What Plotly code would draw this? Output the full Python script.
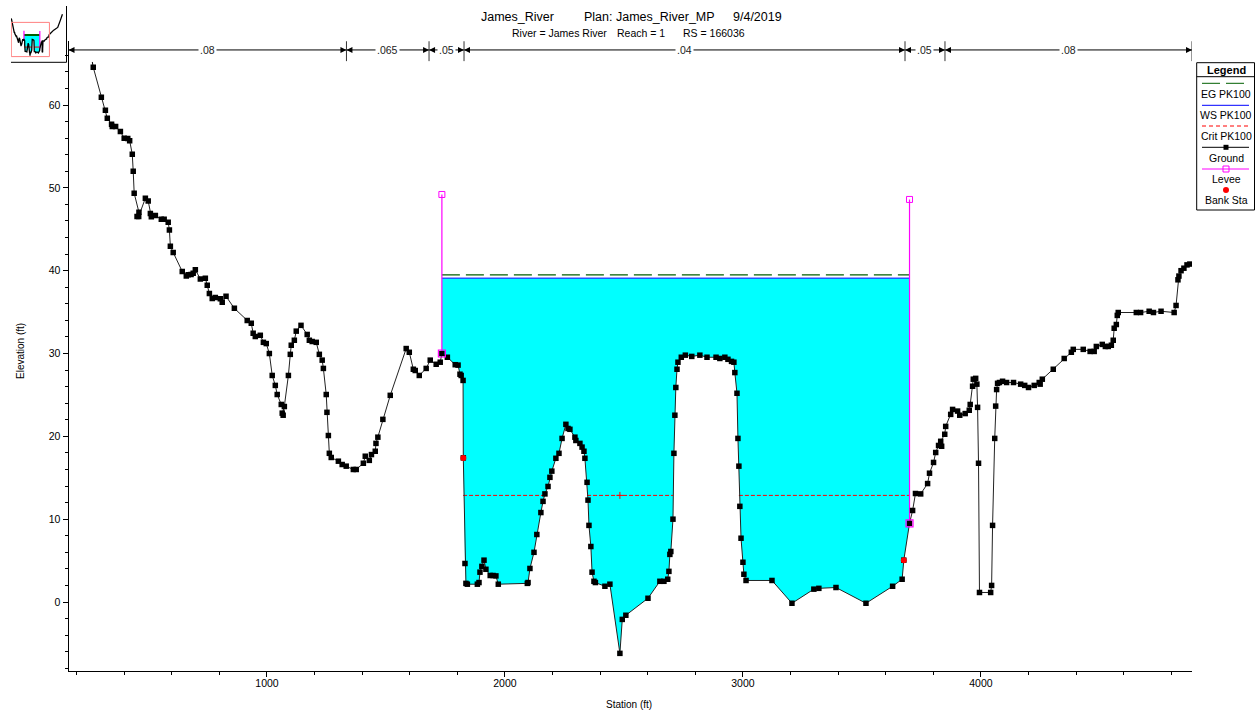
import plotly.graph_objects as go

ground_station = [270,304,321,329,347,350,364,384,400,415,423,434,438,442,462,454,461,489,501,510,514,531,556,568,585,590,594,606,644,661,669,681,690,699,720,741,749,758,770,783,804,812,828,863,917,934,942,951,972,985,997,1010,1022,1035,1043,1060,1073,1064,1068,1090,1098,1102,1115,1123,1143,1169,1178,1190,1207,1220,1232,1237,1249,1252,1258,1262,1270,1300,1316,1333,1363,1375,1405,1413,1430,1439,1455,1458,1466,1487,1518,1585,1598,1615,1623,1640,1669,1686,1711,1728,1735,1758,1791,1803,1811,1816,1824,1825,1832,1836,1842,1884,1891,1895,1903,1912,1920,1938,1950,1962,1972,2094,2097,2105,2122,2134,2151,2160,2168,2181,2189,2197,2214,2227,2240,2256,2265,2273,2294,2298,2315,2324,2332,2336,2345,2349,2353,2361,2366,2374,2380,2420,2441,2483,2493,2508,2601,2651,2668,2684,2689,2693,2697,2706,2710,2714,2718,2723,2727,2741,2758,2785,2819,2849,2887,2903,2924,2937,2952,2962,2966,2975,2979,2983,2987,2992,3000,3004,3013,3122,3206,3298,3319,3391,3517,3629,3669,3676,3700,3713,3725,3747,3776,3784,3801,3810,3822,3835,3831,3848,3852,3873,3881,3902,3911,3934,3951,3955,3965,3968,3978,3983,3986,3990,3994,4041,4045,4049,4058,4062,4066,4070,4078,4091,4108,4137,4167,4184,4200,4224,4245,4249,4258,4304,4350,4380,4388,4430,4459,4476,4485,4510,4523,4535,4548,4556,4560,4569,4573,4577,4653,4671,4707,4725,4757,4812,4820,4828,4832,4841,4853,4866,4878]
ground_elev = [64.55,60.93,59.36,58.4,57.67,57.4,57.4,56.8,56.0,55.95,55.7,54.05,52.0,49.35,47.05,46.55,46.55,48.75,48.4,46.9,46.5,46.65,46.2,46.2,45.85,44.9,42.95,42.2,39.9,39.35,39.5,39.55,39.7,40.1,39.0,39.1,38.25,37.25,36.65,36.75,36.6,36.2,36.9,35.45,34.0,33.65,32.45,32.05,32.2,31.35,31.2,30.0,27.35,26.15,25.05,23.85,23.6,22.8,22.55,27.35,29.9,31.0,31.6,32.7,33.4,32.3,31.6,31.45,31.35,29.9,29.2,28.2,25.05,22.9,20.1,17.95,17.45,17.0,16.6,16.4,16.0,16.0,16.75,17.6,17.1,17.8,18.2,19.15,19.9,22.05,24.95,30.6,30.15,28.1,27.95,27.35,28.2,29.2,28.7,28.95,30.0,29.55,28.65,28.6,27.5,27.35,26.75,17.4,4.65,2.25,2.15,2.15,2.35,3.6,4.3,5.05,3.95,3.2,3.2,3.15,2.15,2.25,2.35,4.05,6.0,8.15,10.8,12.15,13.05,13.95,15.05,15.8,17.35,17.95,19.75,21.45,20.95,20.85,19.9,19.5,19.15,18.7,18.2,17.35,14.45,12.3,9.25,6.7,3.6,2.5,2.35,1.9,2.15,-6.2,-2.1,-1.6,0.45,2.5,2.5,2.75,3.7,5.75,6.1,10.0,17.95,22.55,25.9,28.1,28.95,29.55,29.8,29.65,29.8,29.55,29.55,29.4,29.55,29.3,29.05,28.95,27.7,25.2,19.75,16.4,11.55,7.7,4.8,3.35,2.6,2.6,-0.15,1.55,1.65,1.75,-0.15,1.9,2.75,5.05,9.5,11.05,13.1,13.05,14.3,15.55,16.85,18.05,18.9,18.8,19.4,20.25,21.2,22.65,23.25,23.05,22.55,22.75,23.15,23.85,26.05,26.9,27.0,26.3,23.5,16.75,1.15,1.15,2.0,9.25,19.75,23.65,25.65,26.4,26.5,26.65,26.5,26.5,26.3,26.15,25.9,26.15,26.5,26.3,26.9,28.1,29.4,30.15,30.5,30.5,30.25,30.25,30.85,31.1,30.85,30.85,31.0,31.6,33.05,33.5,34.6,34.95,34.95,34.95,35.1,34.95,35.1,34.95,35.8,38.9,39.35,40.0,40.3,40.7,40.8]
# Ground beyond the zoomed window, seen only in the key map (and just peeking into the main view)
ground_left_station = [166, 266]
ground_left_elev = [76.6, 65.2]
ground_right_station = [5416, 5916, 6250, 6500]
ground_right_elev = [50.5, 56.5, 72.8, 86.0]

levee_station = [1735, 3700]
levee_toe = [30.0, 9.5]
levee_top = [49.2, 48.6]
bank_station = [1825, 3676]
bank_elev = [17.4, 5.05]
ws_elev = 39.1
eg_elev = 39.5
crit_elev = 12.87
crit_segments = [(1824, 2168), (2345, 2706), (2983, 3700)]
crit_mark_station = 2483
n_breaks = [166, 1334, 1681, 1828, 3681, 3849, 4887]
n_labels = [".08", ".065", ".05", ".04", ".05", ".08"]
n_elev = 66.65
n_tick_low, n_tick_high = 65.3, 67.7
legend_labels = ["EG PK100", "WS PK100", "Crit PK100", "Ground", "Levee", "Bank Sta"]
title_parts = ["James_River", "Plan: James_River_MP", "9/4/2019"]
subtitle_parts = ["River = James River", "Reach = 1", "RS = 166036"]

X_RANGE = [166, 4887]
Y_RANGE = [-8.33, 67.73]
KEY_X_RANGE = [128, 7004]
KEY_Y_RANGE = [-21, 106.4]
W, H = 1256, 713
L, R, T, B = 68.5, 1192, 41, 671
FONT = "Liberation Sans"
EG_C, WS_C, CRIT_C = "#005f00", "#0000ff", "#ff0000"


def px(v):
    return v / W


def py(v):
    return (H - v) / H


def in_channel():
    i0 = ground_station.index(levee_station[0])
    i1 = ground_station.index(levee_station[1])
    return ground_station[i0:i1 + 1], ground_elev[i0:i1 + 1]


ch_x, ch_y = in_channel()
crit_x, crit_y = [], []
for a, b in crit_segments:
    crit_x += [a, b, None]
    crit_y += [crit_elev, crit_elev, None]

fig = go.Figure()


def add_section(xa, ya, detail):
    fig.add_trace(go.Scatter(x=ch_x + [levee_station[1], levee_station[0]],
                             y=ch_y + [ws_elev, ws_elev], mode="lines", fill="toself",
                             fillcolor="#00ffff", line=dict(width=0), xaxis=xa, yaxis=ya,
                             hoverinfo="skip"))
    fig.add_trace(go.Scatter(x=crit_x, y=crit_y, mode="lines",
                             line=dict(color=CRIT_C, width=1, dash="4px,2px" if detail else "solid"),
                             xaxis=xa, yaxis=ya))
    fig.add_trace(go.Scatter(x=levee_station, y=[eg_elev] * 2, mode="lines",
                             line=dict(color=EG_C, width=1.2 if detail else 2, dash="18px,6px" if detail else "solid"),
                             xaxis=xa, yaxis=ya))
    if detail:
        fig.add_trace(go.Scatter(x=levee_station, y=[ws_elev] * 2, mode="lines",
                                 line=dict(color=WS_C, width=1), xaxis=xa, yaxis=ya))
    for i in range(2):
        fig.add_trace(go.Scatter(x=[levee_station[i]] * 2, y=[levee_toe[i], levee_top[i]],
                                 mode="lines", line=dict(color="#ff00ff", width=1.2), xaxis=xa, yaxis=ya))


add_section("x", "y", True)
fig.add_trace(go.Scatter(x=ground_left_station[1:] + ground_station[:1],
                         y=ground_left_elev[1:] + ground_elev[:1], mode="lines",
                         line=dict(color="#000", width=1)))
fig.add_trace(go.Scatter(x=ground_station, y=ground_elev, mode="lines+markers",
                         line=dict(color="#222", width=1),
                         marker=dict(color="#000", symbol="square", size=5.5, line=dict(width=0))))
fig.add_trace(go.Scatter(x=levee_station, y=levee_toe, mode="markers",
                         marker=dict(symbol="square-open", color="#ff00ff", size=7, line=dict(width=1.2, color="#ff00ff"))))
fig.add_trace(go.Scatter(x=levee_station, y=levee_top, mode="markers",
                         marker=dict(symbol="square-open", color="#ff00ff", size=6, line=dict(width=1, color="#ff00ff"))))
fig.add_trace(go.Scatter(x=bank_station, y=bank_elev, mode="markers",
                         marker=dict(symbol="circle", color="#ff0000", size=6, line=dict(width=0))))
fig.add_trace(go.Scatter(x=[crit_mark_station], y=[crit_elev], mode="markers",
                         marker=dict(symbol="cross-thin", size=5, line=dict(width=1, color=CRIT_C))))

# Manning's n chain along the top of the plot
shapes, annos = [], []
for b in n_breaks[1:]:
    shapes.append(dict(type="line", xref="x", yref="y", x0=b, x1=b, y0=n_tick_low, y1=n_tick_high,
                       line=dict(color="#333", width=1)))
for i, lab in enumerate(n_labels):
    a, b = n_breaks[i], n_breaks[i + 1]
    fig.add_trace(go.Scatter(x=[a, b], y=[n_elev, n_elev], mode="lines+markers",
                             line=dict(color="#000", width=1),
                             marker=dict(symbol=["arrow-left", "arrow-right"], size=6, color="#000", line=dict(width=0))))
    annos.append(dict(x=(a + b) / 2, y=n_elev, xref="x", yref="y", text=lab, showarrow=False,
                      bgcolor="#fff", font=dict(family=FONT, size=10.5, color="#222"), borderpad=1))

# Key map, top left
add_section("x2", "y2", False)
fig.add_trace(go.Scatter(x=ground_left_station + ground_station + ground_right_station,
                         y=ground_left_elev + ground_elev + ground_right_elev, mode="lines",
                         line=dict(color="#000", width=1.3), xaxis="x2", yaxis="y2"))
shapes.append(dict(type="rect", xref="x2", yref="y2", x0=X_RANGE[0], x1=X_RANGE[1], y0=Y_RANGE[0], y1=Y_RANGE[1],
                   line=dict(color="#ff8080", width=1)))
shapes.append(dict(type="line", xref="paper", yref="paper", x0=px(11), x1=px(66.5), y0=py(62.3), y1=py(62.3), line=dict(color="#000", width=1)))
shapes.append(dict(type="line", xref="paper", yref="paper", x0=px(66.5), x1=px(66.5), y0=py(6), y1=py(62.3), line=dict(color="#000", width=1)))

# Legend box
LX0, LX1 = 1196.7, 1254.5
LCX = 1226


def pline(x0, y0, x1, y1, color="#000", width=1, dash=None):
    shapes.append(dict(type="line", xref="paper", yref="paper", x0=px(x0), x1=px(x1), y0=py(y0), y1=py(y1),
                       line=dict(color=color, width=width, dash=dash)))


def ptext(x, y, t, size=10.5, bold=False, angle=0):
    annos.append(dict(xref="paper", yref="paper", x=px(x), y=py(y), text=f"<b>{t}</b>" if bold else t, showarrow=False,
                      textangle=angle, font=dict(family=FONT, size=size, color="#000"), xanchor="center", yanchor="middle"))


shapes.append(dict(type="rect", xref="paper", yref="paper", x0=px(LX0), x1=px(LX1), y0=py(62.7), y1=py(210),
                   line=dict(color="#000", width=1), fillcolor="#fff"))
pline(LX0, 76.7, LX1, 76.7)
ptext(LCX, 69.5, "Legend", 11, True)
text_y = [94, 115, 136, 158, 179.5, 200]
for t, y in zip(legend_labels, text_y):
    ptext(LCX, y, t, 10.5)
pline(1202, 83.3, 1220, 83.3, EG_C)
pline(1226, 83.3, 1244, 83.3, EG_C)
pline(1202, 105.3, 1249, 105.3, WS_C)
pline(1202, 126, 1249, 126, CRIT_C, 1, "4px,3px")
pline(1202, 147.3, 1249, 147.3)
shapes.append(dict(type="rect", xref="paper", yref="paper", x0=px(1223.5), x1=px(1228.5), y0=py(149.8), y1=py(144.8),
                   fillcolor="#000", line=dict(width=0)))
pline(1202, 169, 1249, 169, "#ff00ff")
shapes.append(dict(type="rect", xref="paper", yref="paper", x0=px(1223), x1=px(1229), y0=py(172), y1=py(166),
                   fillcolor="rgba(0,0,0,0)", line=dict(color="#ff00ff", width=1)))
shapes.append(dict(type="circle", xref="paper", yref="paper", x0=px(1223), x1=px(1229), y0=py(193), y1=py(187),
                   fillcolor="#ff0000", line=dict(width=0)))

for t, x in zip(title_parts, [517.5, 649.7, 757]):
    ptext(x, 17, t, 12.5)
for t, x in zip(subtitle_parts, [559.5, 641, 714]):
    ptext(x, 33, t, 10.5)
ptext(629, 704, "Station (ft)", 10)
ptext(21, 351, "Elevation (ft)", 10, False, -90)

axis_font = dict(family=FONT, size=10.5, color="#000")
common = dict(showgrid=False, zeroline=False, showline=True, linecolor="#000", linewidth=1, ticks="outside",
              tickcolor="#000", tickwidth=1, ticklen=5, tickfont=axis_font)
fig.update_layout(
    width=W, height=H, showlegend=False, plot_bgcolor="#fff", paper_bgcolor="#fff",
    margin=dict(l=0, r=0, t=0, b=0, pad=0),
    xaxis=dict(domain=[px(L), px(R)], anchor="y", range=X_RANGE, tick0=0, dtick=1000, ticklabelstandoff=-3,
               minor=dict(dtick=200, tick0=0, ticks="outside", ticklen=3, tickcolor="#000", tickwidth=1), **common),
    yaxis=dict(domain=[py(B), py(T)], anchor="x", range=Y_RANGE, tick0=0, dtick=10,
               minor=dict(dtick=2, tick0=0, ticks="outside", ticklen=3, tickcolor="#000", tickwidth=1), **common),
    xaxis2=dict(domain=[px(11), px(66.5)], range=KEY_X_RANGE, visible=False, anchor="y2"),
    yaxis2=dict(domain=[py(62.3), py(5)], range=KEY_Y_RANGE, visible=False, anchor="x2"),
    shapes=shapes, annotations=annos,
)
fig.write_html("out.html", config=dict(displayModeBar=False),
               post_script="document.body.style.margin='0';document.body.style.overflow='hidden';")
